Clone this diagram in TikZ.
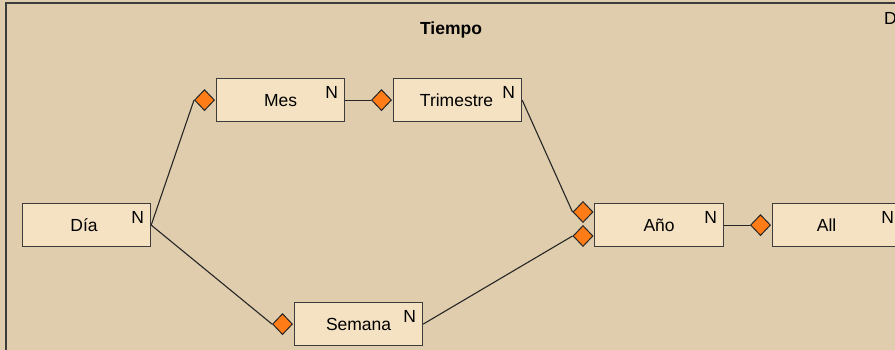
\documentclass[tikz,border=0pt]{standalone}
\usepackage{fontspec}
\setmainfont{Liberation Sans}
\usetikzlibrary{shapes.geometric}
\definecolor{bgtan}{RGB}{224,205,173}
\definecolor{boxfill}{RGB}{244,226,194}
\definecolor{diafill}{RGB}{255,124,22}
\definecolor{frameline}{RGB}{60,60,60}
\begin{document}
\begin{tikzpicture}[x=1pt,y=-1pt,
  every node/.style={font=\fontsize{17.5}{20}\selectfont},
  levelbox/.style={draw=frameline,line width=1.2pt,fill=boxfill,minimum width=128pt,minimum height=43pt,inner sep=0pt,anchor=north west},
  nmark/.style={anchor=north east,inner sep=0pt},
  link/.style={draw=black!85,line width=1.1pt},
  attr/.style={diamond,aspect=1,draw=black!85,line width=1pt,fill=diafill,minimum width=20pt,minimum height=21pt,inner sep=0pt}
]
\useasboundingbox (0,0) rectangle (895,350);
\clip (0,0) rectangle (895,350);
\fill[bgtan] (0,0) rectangle (895,350);
\draw[frameline,line width=1.6pt] (6,360) -- (6,3) -- (905,3);
\node[font=\fontsize{17.5}{20}\selectfont\bfseries,anchor=base] (title) at (451,35) {Tiempo};
\node[anchor=base west,inner sep=0pt] (dcut) at (884,25) {D};
% level boxes
\node[levelbox] (dia) at (22,203) {\hspace*{-5pt}Día};
\node[levelbox] (mes) at (216,78) {Mes};
\node[levelbox] (tri) at (393,78) {\hspace*{-2pt}Trimestre};
\node[levelbox] (sem) at (294,302) {Semana};
\node[levelbox,minimum width=129pt] (ano) at (594,203) {Año};
\node[levelbox] (all) at (772,203) {\hspace*{-20pt}All};
% N markers
\foreach \b in {dia,mes,tri,sem,ano,all}{
  \node[nmark] (\b-n) at ([xshift=-7pt,yshift=-8pt]\b.north east) {N};
}
% diamonds
\node[attr,anchor=east] (mesd) at ([xshift=-1pt]mes.west) {};
\node[attr,anchor=east] (trid) at ([xshift=-1pt]tri.west) {};
\node[attr,anchor=east] (semd) at ([xshift=-1pt]sem.west) {};
\node[attr] (anod1) at (583,212) {};
\node[attr] (anod2) at (583,236) {};
\node[attr,anchor=east] (alld) at ([xshift=-1pt]all.west) {};
% connectors
\draw[link] (dia.east) -- (mesd.west);
\draw[link] (dia.east) -- (semd.west);
\draw[link] (mes.east) -- (trid.west);
\draw[link] (tri.east) -- (anod1.west);
\draw[link] (sem.east) -- (anod2.west);
\draw[link] (ano.east) -- (alld.west);
\end{tikzpicture}
\end{document}
